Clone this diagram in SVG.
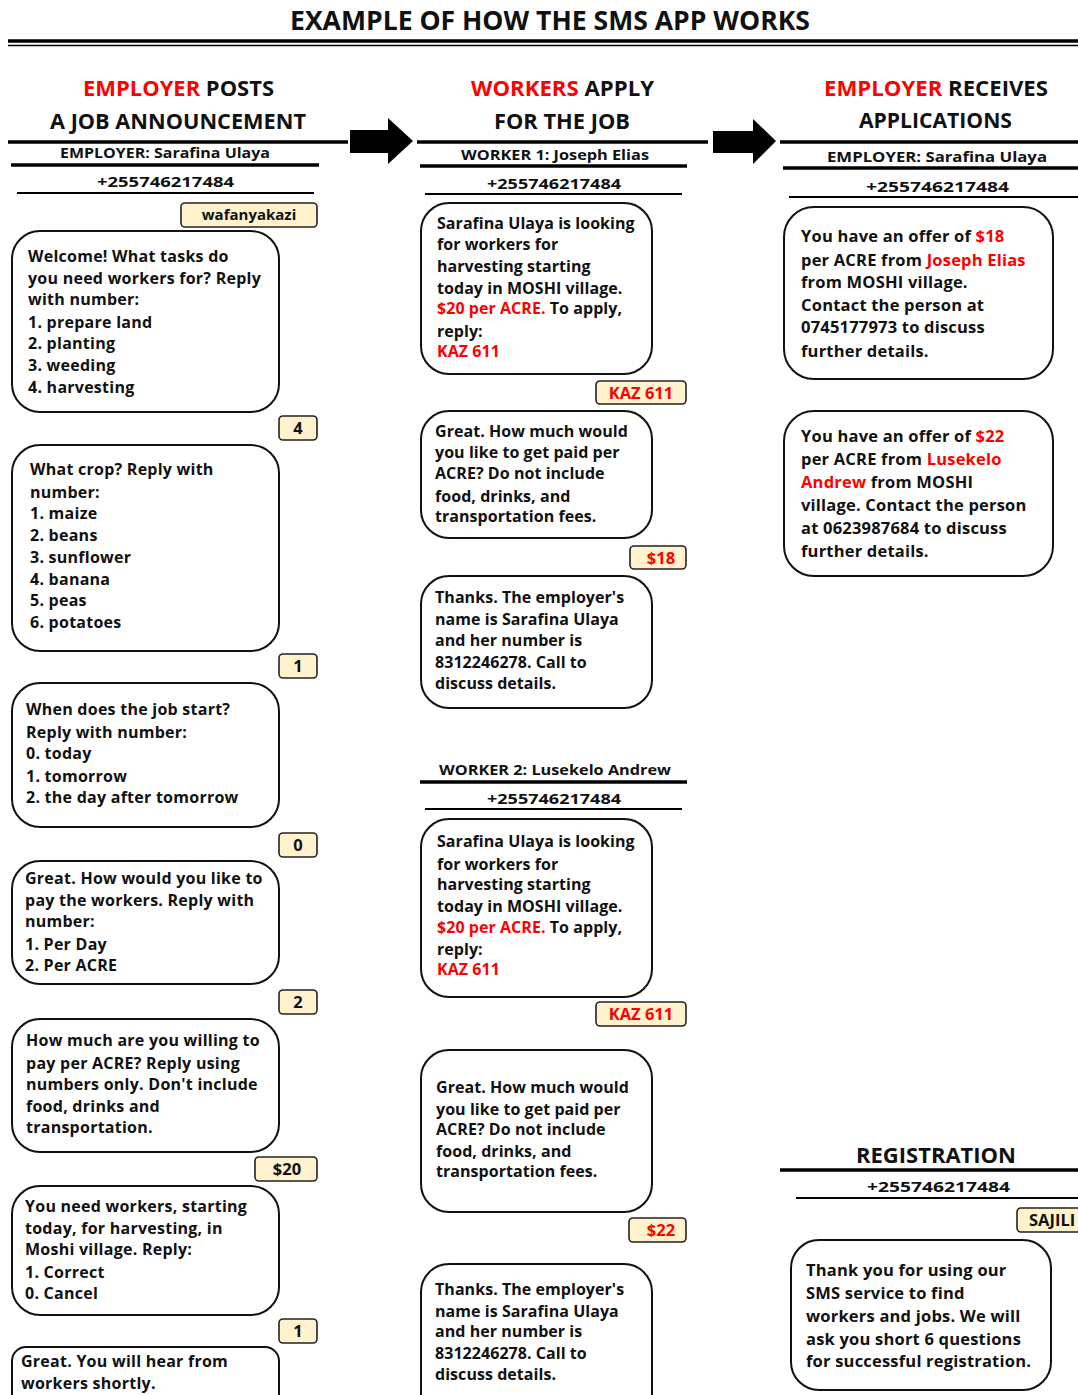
<svg xmlns="http://www.w3.org/2000/svg" width="1078" height="1395" viewBox="0 0 1078 1395">
<style>
text{font-family:"Open Sans","Lato","Liberation Sans",sans-serif;font-weight:bold;fill:#111}
.t{font-size:26px}
.h{font-size:22px}
.s{font-size:15px}
.b{font-size:16px;letter-spacing:0.25px}
.b2{font-size:16px;letter-spacing:0.05px}
.b3{font-size:16.5px;letter-spacing:0.2px}
.r{fill:#ff0000}
.bub{fill:#fff;stroke:#111;stroke-width:2}
.tag{fill:#fff2cc;stroke:#222;stroke-width:1.6}
.tg{font-size:16.5px;text-anchor:middle}
.c{text-anchor:middle}
.L3{stroke:#000;stroke-width:3.5}
.L2{stroke:#000;stroke-width:2}
.arr{fill:#000}
</style>
<rect width="1078" height="1395" fill="#fff"/>

<g id="title">
<text class="t c" x="550" y="30" textLength="520" lengthAdjust="spacingAndGlyphs">EXAMPLE OF HOW THE SMS APP WORKS</text>
<line class="L3" x1="8" y1="41" x2="1078" y2="41"/>
<line x1="8" y1="45.5" x2="1078" y2="45.5" stroke="#000" stroke-width="1.5"/>
</g>

<g id="col1-header">
<text class="h c" x="178.5" y="96" textLength="191" lengthAdjust="spacingAndGlyphs"><tspan class="r">EMPLOYER</tspan> POSTS</text>
<text class="h c" x="178" y="129" textLength="256" lengthAdjust="spacingAndGlyphs">A JOB ANNOUNCEMENT</text>
<line class="L3" x1="8" y1="142" x2="348" y2="142"/>
<text class="s c" x="165" y="158" textLength="210" lengthAdjust="spacingAndGlyphs">EMPLOYER: Sarafina Ulaya</text>
<line class="L3" x1="11" y1="165" x2="319" y2="165"/>
<text class="s c" x="165.5" y="187" textLength="137" lengthAdjust="spacingAndGlyphs">+255746217484</text>
<line class="L2" x1="17" y1="193" x2="314" y2="193"/>
</g>

<g id="col2-header">
<text class="h c" x="562.5" y="96" textLength="183" lengthAdjust="spacingAndGlyphs"><tspan class="r">WORKERS</tspan> APPLY</text>
<text class="h c" x="562" y="129" textLength="136" lengthAdjust="spacingAndGlyphs">FOR THE JOB</text>
<line class="L3" x1="417" y1="142" x2="708" y2="142"/>
<text class="s c" x="555" y="160" textLength="188" lengthAdjust="spacingAndGlyphs">WORKER 1: Joseph Elias</text>
<line class="L3" x1="420" y1="166" x2="687" y2="166"/>
<text class="s c" x="554" y="189" textLength="134" lengthAdjust="spacingAndGlyphs">+255746217484</text>
<line class="L2" x1="425" y1="194" x2="682" y2="194"/>
</g>

<g id="col3-header">
<text class="h c" x="936" y="96" textLength="224" lengthAdjust="spacingAndGlyphs"><tspan class="r">EMPLOYER</tspan> RECEIVES</text>
<text class="h c" x="935.5" y="128" textLength="153" lengthAdjust="spacingAndGlyphs">APPLICATIONS</text>
<line class="L3" x1="780" y1="142" x2="1078" y2="142"/>
<text class="s c" x="937" y="162" textLength="220" lengthAdjust="spacingAndGlyphs">EMPLOYER: Sarafina Ulaya</text>
<line class="L3" x1="783" y1="168" x2="1078" y2="168"/>
<text class="s c" x="937.5" y="192" textLength="143" lengthAdjust="spacingAndGlyphs">+255746217484</text>
<line class="L2" x1="789" y1="197" x2="1078" y2="197"/>
</g>

<g id="connectors">
<polygon class="arr" points="350,130 388,130 388,118 413,141 388,164 388,153 350,153"/>
<polygon class="arr" points="713,131 753,131 753,119 776,141 753,164 753,153 713,153"/>
</g>

<!-- Column 1 -->
<g id="tag-wafanyakazi"><rect class="tag" x="181" y="203" width="136" height="24" rx="4"/><text class="tg" x="249" y="220" style="font-size:15px">wafanyakazi</text></g>
<g id="msg-e1">
<rect class="bub" x="12" y="231" width="267" height="181" rx="28"/>
<text class="b" x="28"><tspan x="28" y="262">Welcome! What tasks do</tspan><tspan x="28" y="284">you need workers for? Reply</tspan><tspan x="28" y="305">with number:</tspan><tspan x="28" y="328">1. prepare land</tspan><tspan x="28" y="349">2. planting</tspan><tspan x="28" y="371">3. weeding</tspan><tspan x="28" y="393">4. harvesting</tspan></text>
</g>
<g id="tag-4"><rect class="tag" x="279" y="416" width="38" height="24" rx="4"/><text class="tg" x="298" y="434">4</text></g>
<g id="msg-e2">
<rect class="bub" x="12" y="445" width="267" height="206" rx="28"/>
<text class="b"><tspan x="30" y="475">What crop? Reply with</tspan><tspan x="30" y="498">number:</tspan><tspan x="30" y="519">1. maize</tspan><tspan x="30" y="541">2. beans</tspan><tspan x="30" y="563">3. sunflower</tspan><tspan x="30" y="585">4. banana</tspan><tspan x="30" y="606">5. peas</tspan><tspan x="30" y="628">6. potatoes</tspan></text>
</g>
<g id="tag-1a"><rect class="tag" x="279" y="654" width="38" height="24" rx="4"/><text class="tg" x="298" y="672">1</text></g>
<g id="msg-e3">
<rect class="bub" x="12" y="683" width="267" height="144" rx="28"/>
<text class="b"><tspan x="26" y="715">When does the job start?</tspan><tspan x="26" y="738">Reply with number:</tspan><tspan x="26" y="759">0. today</tspan><tspan x="26" y="782">1. tomorrow</tspan><tspan x="26" y="803">2. the day after tomorrow</tspan></text>
</g>
<g id="tag-0"><rect class="tag" x="279" y="833" width="38" height="24" rx="4"/><text class="tg" x="298" y="851">0</text></g>
<g id="msg-e4">
<rect class="bub" x="12" y="861" width="267" height="123" rx="28"/>
<text class="b"><tspan x="25" y="884">Great. How would you like to</tspan><tspan x="25" y="906">pay the workers. Reply with</tspan><tspan x="25" y="927">number:</tspan><tspan x="25" y="950">1. Per Day</tspan><tspan x="25" y="971">2. Per ACRE</tspan></text>
</g>
<g id="tag-2"><rect class="tag" x="279" y="990" width="38" height="24" rx="4"/><text class="tg" x="298" y="1008">2</text></g>
<g id="msg-e5">
<rect class="bub" x="12" y="1019" width="267" height="133" rx="28"/>
<text class="b"><tspan x="26" y="1046">How much are you willing to</tspan><tspan x="26" y="1069">pay per ACRE? Reply using</tspan><tspan x="26" y="1090">numbers only. Don't include</tspan><tspan x="26" y="1112">food, drinks and</tspan><tspan x="26" y="1133">transportation.</tspan></text>
</g>
<g id="tag-20"><rect class="tag" x="255" y="1157" width="62" height="24" rx="4"/><text class="tg" x="287" y="1175">$20</text></g>
<g id="msg-e6">
<rect class="bub" x="12" y="1186" width="267" height="129" rx="28"/>
<text class="b"><tspan x="25" y="1212">You need workers, starting</tspan><tspan x="25" y="1234">today, for harvesting, in</tspan><tspan x="25" y="1255">Moshi village. Reply:</tspan><tspan x="25" y="1278">1. Correct</tspan><tspan x="25" y="1299">0. Cancel</tspan></text>
</g>
<g id="tag-1b"><rect class="tag" x="279" y="1319" width="38" height="24" rx="4"/><text class="tg" x="298" y="1337">1</text></g>
<g id="msg-e7">
<rect class="bub" x="12" y="1347" width="267" height="70" rx="14"/>
<text class="b"><tspan x="21" y="1367">Great. You will hear from</tspan><tspan x="21" y="1389">workers shortly.</tspan></text>
</g>

<!-- Column 2 -->
<g id="msg-w1a">
<rect class="bub" x="421" y="203" width="231" height="171" rx="28"/>
<text class="b2"><tspan x="437" y="229">Sarafina  Ulaya is looking</tspan><tspan x="437" y="250">for workers for</tspan><tspan x="437" y="272">harvesting starting</tspan><tspan x="437" y="294">today in MOSHI village.</tspan><tspan x="437" y="314"><tspan class="r">$20 per ACRE.</tspan> To apply,</tspan><tspan x="437" y="337">reply:</tspan><tspan x="437" y="357" class="r">KAZ 611</tspan></text>
</g>
<g id="tag-kaz1"><rect class="tag" x="596" y="381" width="90" height="23" rx="4"/><text class="tg r" x="641" y="398.5">KAZ 611</text></g>
<g id="msg-w1b">
<rect class="bub" x="421" y="411" width="231" height="127" rx="28"/>
<text class="b2"><tspan x="435" y="437">Great. How much would</tspan><tspan x="435" y="458">you like to get paid per</tspan><tspan x="435" y="479">ACRE? Do not include</tspan><tspan x="435" y="502">food, drinks, and</tspan><tspan x="435" y="522">transportation fees.</tspan></text>
</g>
<g id="tag-18"><rect class="tag" x="630" y="546" width="56" height="23" rx="4"/><text class="tg r" x="661" y="563.5">$18</text></g>
<g id="msg-w1c">
<rect class="bub" x="421" y="576" width="231" height="132" rx="28"/>
<text class="b2"><tspan x="435" y="603">Thanks.  The employer's</tspan><tspan x="435" y="625">name is Sarafina Ulaya</tspan><tspan x="435" y="646">and her number is</tspan><tspan x="435" y="668">8312246278. Call to</tspan><tspan x="435" y="689">discuss details.</tspan></text>
</g>

<g id="worker2-header">
<text class="s c" x="555" y="775" textLength="232" lengthAdjust="spacingAndGlyphs">WORKER 2: Lusekelo Andrew</text>
<line class="L3" x1="420" y1="782" x2="687" y2="782"/>
<text class="s c" x="554" y="804" textLength="134" lengthAdjust="spacingAndGlyphs">+255746217484</text>
<line class="L2" x1="425" y1="809" x2="682" y2="809"/>
</g>
<g id="msg-w2a">
<rect class="bub" x="421" y="819" width="231" height="178" rx="28"/>
<text class="b2"><tspan x="437" y="847">Sarafina  Ulaya is looking</tspan><tspan x="437" y="870">for workers for</tspan><tspan x="437" y="890">harvesting starting</tspan><tspan x="437" y="912">today in MOSHI village.</tspan><tspan x="437" y="933"><tspan class="r">$20 per ACRE.</tspan> To apply,</tspan><tspan x="437" y="955">reply:</tspan><tspan x="437" y="975" class="r">KAZ 611</tspan></text>
</g>
<g id="tag-kaz2"><rect class="tag" x="596" y="1002" width="90" height="24" rx="4"/><text class="tg r" x="641" y="1020">KAZ 611</text></g>
<g id="msg-w2b">
<rect class="bub" x="421" y="1050" width="231" height="162" rx="28"/>
<text class="b2"><tspan x="436" y="1093">Great. How much would</tspan><tspan x="436" y="1115">you like to get paid per</tspan><tspan x="436" y="1135">ACRE? Do not include</tspan><tspan x="436" y="1157">food, drinks, and</tspan><tspan x="436" y="1177">transportation fees.</tspan></text>
</g>
<g id="tag-22"><rect class="tag" x="629" y="1218" width="57" height="24" rx="4"/><text class="tg r" x="661" y="1236">$22</text></g>
<g id="msg-w2c">
<rect class="bub" x="421" y="1264" width="231" height="160" rx="28"/>
<text class="b2"><tspan x="435" y="1295">Thanks.  The employer's</tspan><tspan x="435" y="1317">name is Sarafina Ulaya</tspan><tspan x="435" y="1337">and her number is</tspan><tspan x="435" y="1359">8312246278. Call to</tspan><tspan x="435" y="1380">discuss details.</tspan></text>
</g>

<!-- Column 3 -->
<g id="msg-offer1">
<rect class="bub" x="784" y="207" width="269" height="172" rx="30"/>
<text class="b3"><tspan x="801" y="242">You have an offer of <tspan class="r">$18</tspan></tspan><tspan x="801" y="266">per ACRE from <tspan class="r">Joseph Elias</tspan></tspan><tspan x="801" y="288">from MOSHI village.</tspan><tspan x="801" y="311">Contact the person at</tspan><tspan x="801" y="333">0745177973 to discuss</tspan><tspan x="801" y="357">further details.</tspan></text>
</g>
<g id="msg-offer2">
<rect class="bub" x="784" y="411" width="269" height="165" rx="30"/>
<text class="b3"><tspan x="801" y="442">You have an offer of <tspan class="r">$22</tspan></tspan><tspan x="801" y="465">per ACRE from <tspan class="r">Lusekelo</tspan></tspan><tspan x="801" y="488"><tspan class="r">Andrew</tspan> from MOSHI</tspan><tspan x="801" y="511">village. Contact the person</tspan><tspan x="801" y="534">at 0623987684 to discuss</tspan><tspan x="801" y="557">further details.</tspan></text>
</g>

<g id="registration-header">
<text class="h c" x="936" y="1163" textLength="160" lengthAdjust="spacingAndGlyphs">REGISTRATION</text>
<line class="L3" x1="780" y1="1170" x2="1078" y2="1170"/>
<text class="s c" x="938.5" y="1192" textLength="143" lengthAdjust="spacingAndGlyphs">+255746217484</text>
<line class="L2" x1="796" y1="1198" x2="1078" y2="1198"/>
</g>
<g id="tag-sajili"><rect class="tag" x="1017" y="1208" width="80" height="24" rx="4"/><text class="tg" x="1029" y="1226" style="text-anchor:start">SAJILI</text></g>
<g id="msg-reg">
<rect class="bub" x="791" y="1240" width="260" height="150" rx="28"/>
<text class="b3"><tspan x="806" y="1276">Thank you for using our</tspan><tspan x="806" y="1299">SMS service to find</tspan><tspan x="806" y="1322">workers and jobs. We will</tspan><tspan x="806" y="1345">ask you short 6 questions</tspan><tspan x="806" y="1367">for successful registration.</tspan></text>
</g>
</svg>
